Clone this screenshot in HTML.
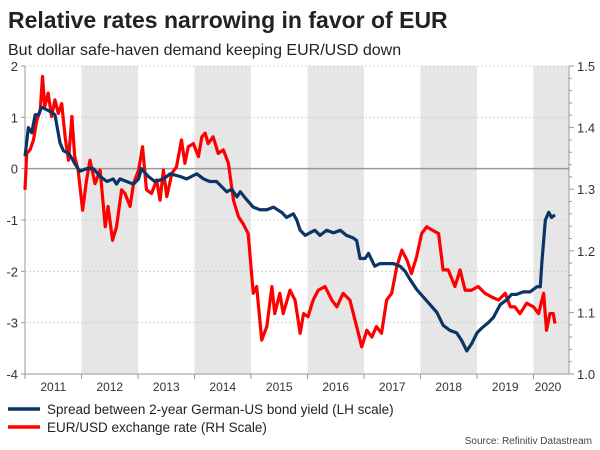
<!DOCTYPE html>
<html><head><meta charset="utf-8"><style>
body{margin:0;background:#fff;font-family:"Liberation Sans",sans-serif;}
#wrap{position:relative;width:600px;height:450px;overflow:hidden;}
</style></head><body>
<div id="wrap">
<svg id="chart" width="600" height="450">
<text x="8" y="28" font-size="23" font-weight="bold" fill="#222">Relative rates narrowing in favor of EUR</text>
<text x="8" y="55" font-size="16" fill="#222">But dollar safe-haven demand keeping EUR/USD down</text>
<g id="bands"></g><g id="grid"></g><g id="axes"></g><g id="series"></g>
<g>
<line x1="8" y1="409" x2="40" y2="409" stroke="#0b3566" stroke-width="3.5"/>
<text x="47" y="414" font-size="13.5" fill="#222">Spread between 2-year German-US bond yield (LH scale)</text>
<line x1="8" y1="427" x2="40" y2="427" stroke="#ff0000" stroke-width="3.5"/>
<text x="47" y="432" font-size="13.5" fill="#222">EUR/USD exchange rate (RH Scale)</text>
</g>
<text x="592" y="444" font-size="10" fill="#444" text-anchor="end">Source: Refinitiv Datastream</text>
</svg></div>
<script>
const years=[2011,2012,2013,2014,2015,2016,2017,2018,2019,2020];
const shadedYears=[2012,2014,2016,2018,2020];
const leftTicks=[2,1,0,-1,-2,-3,-4];
const rightTicks=[1.5,1.4,1.3,1.2,1.1,1.0];
const spreadT=[0,.06,.12,.18,.24,.29,.38,.47,.53,.62,.68,.77,.83,.88,.97,1.09,1.21,1.33,1.45,1.56,1.62,1.68,1.80,1.92,2.01,2.06,2.18,2.30,2.45,2.57,2.74,2.86,2.95,3.04,3.16,3.27,3.39,3.48,3.57,3.66,3.75,3.81,3.92,4.04,4.16,4.28,4.40,4.54,4.63,4.75,4.81,4.87,4.96,5.04,5.13,5.22,5.34,5.46,5.58,5.69,5.81,5.87,5.93,6.02,6.08,6.19,6.28,6.40,6.52,6.64,6.73,6.81,6.93,7.05,7.17,7.29,7.40,7.52,7.64,7.73,7.82,7.91,8.00,8.09,8.20,8.29,8.41,8.53,8.61,8.70,8.82,8.94,9.06,9.12,9.15,9.21,9.27,9.32,9.38];
const spreadV=[.24,.8,.7,1.05,1.05,1.2,1.15,1.1,1.05,.5,.35,.3,.2,.1,-.05,0,0,-.15,-.25,-.2,-.3,-.2,-.25,-.3,-.2,0,-.15,-.25,-.2,-.1,-.15,-.2,-.15,-.1,-.2,-.25,-.25,-.35,-.45,-.4,-.55,-.45,-.6,-.75,-.8,-.8,-.75,-.85,-.95,-.88,-1.0,-1.2,-1.3,-1.25,-1.2,-1.3,-1.2,-1.25,-1.2,-1.3,-1.35,-1.4,-1.75,-1.75,-1.65,-1.9,-1.85,-1.85,-1.85,-1.9,-2.0,-2.15,-2.35,-2.5,-2.65,-2.8,-3.05,-3.15,-3.2,-3.35,-3.55,-3.4,-3.2,-3.1,-3.0,-2.9,-2.65,-2.55,-2.45,-2.45,-2.4,-2.4,-2.3,-2.3,-1.8,-1.0,-.85,-.95,-.9];
const fxT=[0,.03,.09,.15,.21,.27,.31,.35,.41,.47,.53,.59,.65,.71,.77,.83,.88,.94,1.02,1.09,1.15,1.24,1.33,1.42,1.47,1.55,1.62,1.71,1.77,1.86,1.92,2.01,2.08,2.15,2.24,2.33,2.39,2.45,2.51,2.60,2.68,2.77,2.83,2.89,2.98,3.07,3.13,3.19,3.24,3.33,3.42,3.51,3.60,3.69,3.78,3.86,3.95,4.04,4.10,4.19,4.28,4.37,4.42,4.51,4.57,4.69,4.78,4.87,4.93,5.01,5.10,5.19,5.31,5.43,5.52,5.63,5.75,5.87,5.96,6.05,6.14,6.22,6.31,6.40,6.49,6.58,6.67,6.76,6.84,6.93,7.02,7.11,7.20,7.32,7.40,7.49,7.61,7.70,7.79,7.90,8.02,8.14,8.26,8.38,8.50,8.59,8.67,8.76,8.88,9.00,9.09,9.18,9.23,9.29,9.35,9.38];
const fxV=[1.299,1.358,1.364,1.380,1.412,1.428,1.483,1.434,1.456,1.418,1.445,1.423,1.439,1.385,1.347,1.418,1.353,1.331,1.266,1.315,1.347,1.309,1.331,1.239,1.272,1.217,1.239,1.299,1.293,1.272,1.309,1.331,1.369,1.299,1.293,1.315,1.282,1.331,1.288,1.326,1.336,1.380,1.342,1.369,1.374,1.353,1.385,1.391,1.374,1.385,1.358,1.364,1.342,1.282,1.255,1.244,1.228,1.131,1.142,1.055,1.077,1.142,1.098,1.131,1.098,1.136,1.120,1.066,1.098,1.093,1.120,1.136,1.142,1.120,1.109,1.131,1.120,1.077,1.044,1.071,1.060,1.077,1.066,1.120,1.131,1.174,1.201,1.185,1.163,1.190,1.228,1.239,1.234,1.228,1.169,1.169,1.142,1.169,1.136,1.136,1.142,1.131,1.125,1.120,1.131,1.109,1.109,1.098,1.115,1.109,1.098,1.131,1.071,1.098,1.098,1.082];

const NS="http://www.w3.org/2000/svg";
const L=25,R=569,T=66,B=374;
const xOf=t=>L+t*56.5;
const xYear=y=>xOf(y-2011);
const yL=v=>T+(2-v)*(B-T)/6;
const yR=v=>T+(1.5-v)*(B-T)/0.5;
function mk(tag,attrs,parent){const e=document.createElementNS(NS,tag);for(const k in attrs)e.setAttribute(k,attrs[k]);document.getElementById(parent).appendChild(e);return e;}

shadedYears.forEach(y=>{
 const x0=xYear(y),x1=Math.min(xYear(y+1),R);
 const r=mk('rect',{x:x0,y:T,width:x1-x0,height:B-T,fill:'#e6e6e6'},'bands');
 
 
});
leftTicks.forEach(v=>{
 const y=yL(v);
 const g=mk('line',{x1:L,x2:R,y1:y,y2:y,stroke:v===0?'#999':'#ccc','stroke-width':v===0?1.5:0.8,'stroke-dasharray':v===0?'':'2,2'},'grid');
 
 
 const t=mk('text',{x:L-7,y:y+5,'font-size':13,fill:'#333','text-anchor':'end'},'axes');
 t.textContent=v;
 
 
 mk('line',{x1:L-4,x2:L,y1:y,y2:y,stroke:'#999'},'axes');
});
rightTicks.forEach(v=>{
 const y=yR(v);
 const t=mk('text',{x:R+8,y:y+5,'font-size':13,fill:'#333'},'axes');
 t.textContent=v.toFixed(1);
 
 
});
for(let i=0;i<=25;i++){const y=yR(1.0+i*0.02);mk('line',{x1:R,x2:R+(i%5===0?5:3),y1:y,y2:y,stroke:'#999'},'axes');}
mk('line',{x1:L,x2:L,y1:T,y2:B,stroke:'#999'},'axes');
mk('line',{x1:R,x2:R,y1:T,y2:B,stroke:'#999'},'axes');
mk('line',{x1:L,x2:R,y1:B,y2:B,stroke:'#999'},'axes');
years.forEach(y=>{
 const x=xYear(y);
 mk('line',{x1:x,x2:x,y1:B,y2:B+5,stroke:'#999'},'axes');
 const t=mk('text',{x:Math.min((x+xYear(y+1))/2,548),y:B+17,'font-size':12,fill:'#333','text-anchor':'middle'},'axes');
 t.textContent=y;
 
 
});
const fxPath=mk('polyline',{points:fxT.map((t,i)=>xOf(t)+','+yR(fxV[i])).join(' '),fill:'none',stroke:'#ff0000','stroke-width':3.2,'stroke-linejoin':'round'},'series');


const spPath=mk('polyline',{points:spreadT.map((t,i)=>xOf(t)+','+yL(spreadV[i])).join(' '),fill:'none',stroke:'#0b3566','stroke-width':3.2,'stroke-linejoin':'round'},'series');


</script>
</body></html>
